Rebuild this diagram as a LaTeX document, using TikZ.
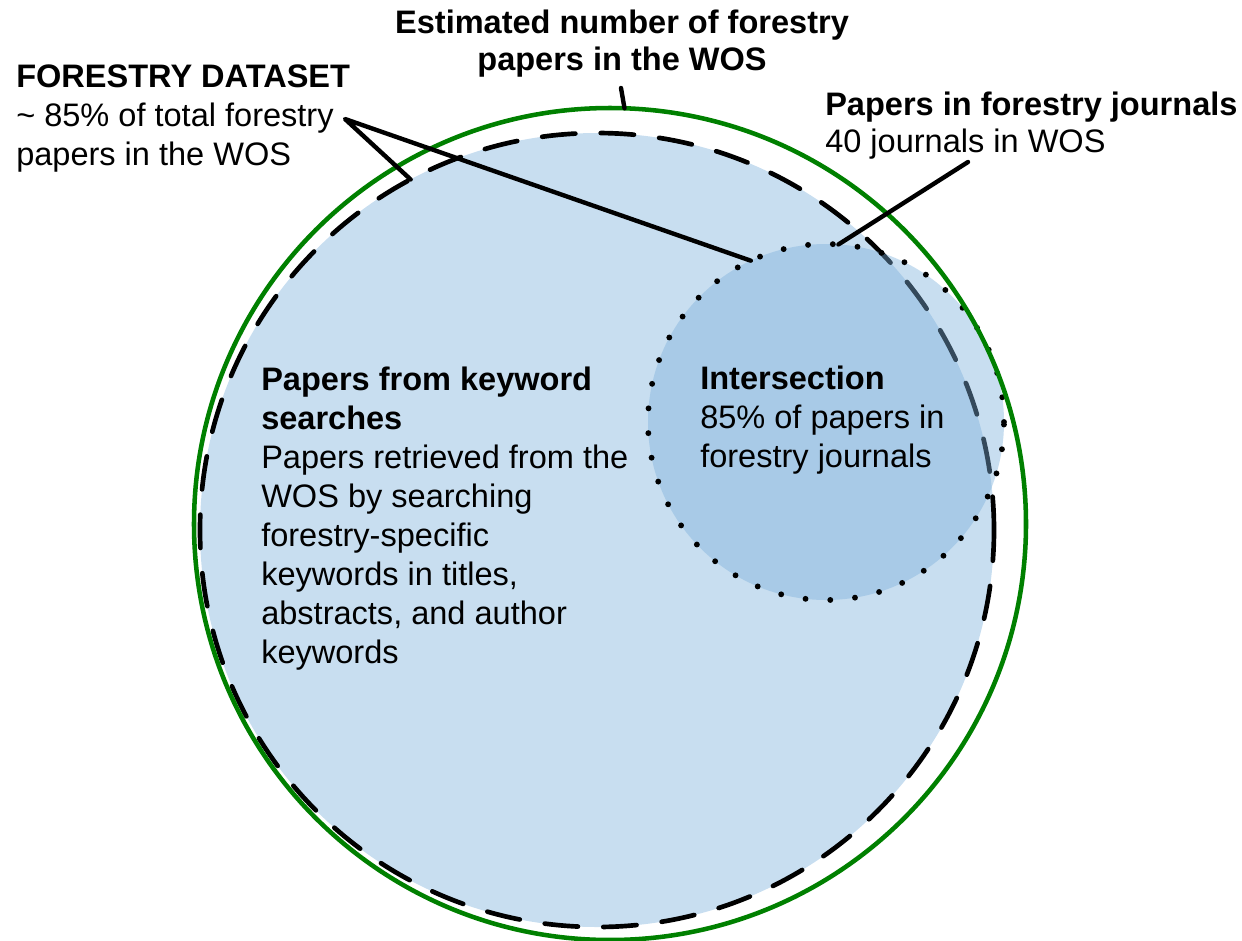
\documentclass[tikz,border=0pt]{standalone}
\usepackage{fontspec}
\setmainfont{Liberation Sans}
\usepackage{xcolor}
\usepackage{tikz}
\definecolor{setblue}{RGB}{200,222,240}
\definecolor{jrnblue}{RGB}{124,176,219}
\definecolor{wosgreen}{RGB}{0,128,0}

\begin{document}
\begin{tikzpicture}[
  x=0.75pt, y=-0.75pt,
  txt/.style={inner sep=0pt, align=left, font=\fontsize{24.4}{29.25}\selectfont},
  ring/.style={circle, inner sep=0pt, outer sep=0pt},
  dataset/.style={ring, minimum size=595.5pt, fill=setblue, draw=black, line width=3.5pt, line cap=round, dash pattern=on 25pt off 19pt},
  journals/.style={ring, minimum size=267pt, fill=jrnblue, fill opacity=0.42, draw=black, line width=4.4pt, line cap=round, dash pattern=on 0pt off 18.6pt},
  wos/.style={ring, minimum size=624pt, draw=wosgreen, line width=3.4pt},
  pointer/.style={line width=3.3pt, line cap=round, line join=round}
]
\useasboundingbox (0,0) rectangle (1242,940);

\node[dataset] (fset) at (597,530) {};
\node[journals] (fjrn) at (826,422) {};
\node[wos] (fwos) at (610,524) {};

\node[txt, align=center, anchor=base, font=\fontsize{24.4}{27.75}\selectfont\bfseries] (title) at (622,70)
  {Estimated number of forestry\\papers in the WOS};
\node[txt, anchor=base west] (setlabel) at (16,165)
  {\textbf{FORESTRY DATASET}\\\textasciitilde{} 85\% of total forestry\\papers in the WOS};
\node[txt, anchor=base west, font=\fontsize{24.4}{27.75}\selectfont] (jrnlabel) at (825,152)
  {\textbf{Papers in forestry journals}\\40 journals in WOS};
\node[txt, anchor=base west] (kwlabel) at (261,663)
  {\textbf{Papers from keyword}\\\textbf{searches}\\Papers retrieved from the\\WOS by searching\\forestry-specific\\keywords in titles,\\abstracts, and author\\keywords};
\node[txt, anchor=base west] (intlabel) at (700,467)
  {\textbf{Intersection}\\85\% of papers in\\forestry journals};

\coordinate (settip) at (345,119);
\coordinate (jrntip) at (968,162);
\coordinate (titletip) at (621,88);

\draw[pointer] (titletip) -- (fwos.88.5);
\draw[pointer] (fset.118.6) -- (settip) -- (fjrn.115.7);
\draw[pointer] (jrntip) -- (fjrn.86.4);
\end{tikzpicture}
\end{document}
